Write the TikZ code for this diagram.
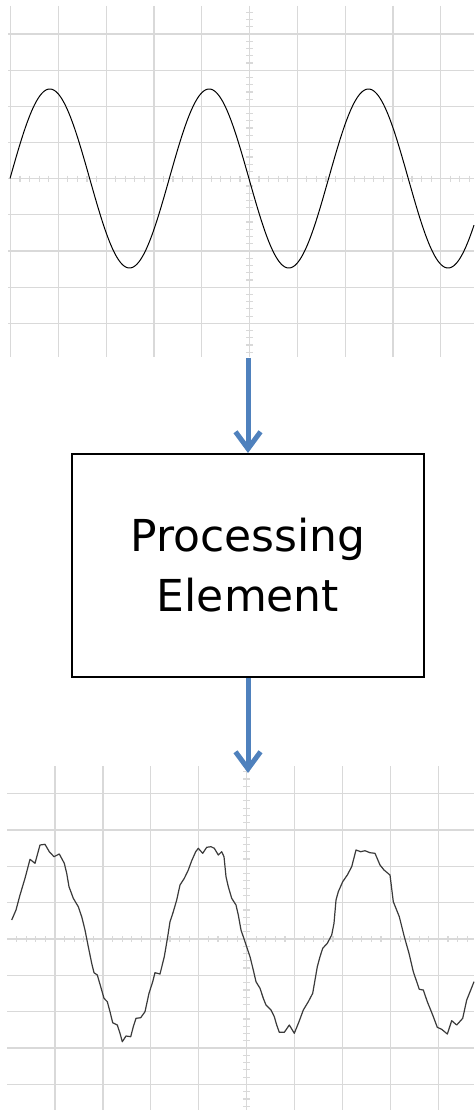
\documentclass[tikz,border=0pt]{standalone}
\usepackage{fontspec}
\newfontfamily\labelfont{DejaVu Sans}
\usetikzlibrary{arrows.meta}
\definecolor{arrowblue}{HTML}{4F81BD}
\definecolor{gridgray}{HTML}{D9D9D9}
\definecolor{noisy}{HTML}{3A3A3A}
\tikzset{
  gridline/.style={draw=gridgray, line width=1.2pt},
  flow/.style={draw=arrowblue, line width=5pt,
    -{Straight Barb[length=17pt,width=25pt]}},
  pebox/.style={draw=black, line width=2pt, fill=white,
    minimum width=352pt, minimum height=223pt, inner sep=0pt,
    align=center, font=\labelfont\fontsize{44}{60}\selectfont},
  cleanwave/.style={draw=black, line width=1pt, line join=round},
  noisywave/.style={draw=noisy, line width=1.2pt, line join=round},
}
\begin{document}
\begin{tikzpicture}[x=1pt, y=-1pt]
\useasboundingbox (0,0) rectangle (474,1115);
\fill[white] (0,0) rectangle (474,1115);

% ---------- input signal: clean sine on a scope grid ----------
\foreach \k in {0,...,9}
  \draw[gridline] ({10.5+47.8*\k},6) -- ({10.5+47.8*\k},357);
\foreach \j in {-4,...,4}
  \draw[gridline] (8,{178.7+36.16*\j}) -- (474,{178.7+36.16*\j});
\foreach \m in {1,...,48}
  \draw[gridline] ({10.5+9.56*\m},175.7) -- ++(0,6);
\foreach \m in {-23,...,24}
  \draw[gridline] (246,{178.7+7.232*\m}) -- ++(7,0);
% 360/159.3 degrees per pixel
\draw[cleanwave] plot[domain=10:474, samples=400, smooth]
  (\x, {178.5-89.5*sin(2.2599*(\x-10))});

% ---------- output signal: noisy sine on a scope grid ----------
\foreach \k in {0,...,8}
  \draw[gridline] ({55+47.93*\k},766) -- ({55+47.93*\k},1110);
\foreach \j in {-4,...,4}
  \draw[gridline] (7.3,{939+36.35*\j}) -- (474,{939+36.35*\j});
\foreach \m in {-4,...,43}
  \draw[gridline] ({55+9.586*\m},936) -- ++(0,6);
\foreach \m in {-23,...,23}
  \draw[gridline] (243.2,{939+7.27*\m}) -- ++(7,0);
\draw[noisywave] (11.7,920) -- (16,910) -- (20,895) -- (25,878.3) -- (30,859.3)
  -- (35,863.3) -- (40,845) -- (45,844.3) -- (49.3,851.7) -- (54,856.7)
  -- (59.3,854) -- (64.3,863.3) -- (66.7,873.3) -- (69,886.7) -- (73.3,898.3)
  -- (78.3,906.7) -- (81.7,916.7) -- (85,930) -- (88.3,946.7) -- (91.7,963.3)
  -- (94,972.7) -- (97.3,975) -- (100.7,986.7) -- (104,998.3) -- (107.3,1001.7)
  -- (110,1011.7) -- (112.7,1022.7) -- (117.3,1025) -- (120,1033.3)
  -- (122.3,1041.7) -- (126,1036) -- (130.7,1036.7) -- (133.3,1026.7)
  -- (136,1018.3) -- (140.7,1017.7) -- (145,1011.7) -- (149,993.3)
  -- (152.7,981.7) -- (155,972.7) -- (160,974) -- (164.3,956.7)
  -- (167.7,936.7) -- (170,921.7) -- (173.3,911.7) -- (176.7,900) -- (180,885)
  -- (184.3,878.3) -- (188.3,870) -- (191.7,860.7) -- (195.7,851.7)
  -- (198.3,848.3) -- (202.7,853.3) -- (206.7,847.3) -- (211,846.7)
  -- (214.3,848.3) -- (218.3,855) -- (221.7,851.7) -- (224,856.7)
  -- (226,876.7) -- (228.3,886.7) -- (231.7,898.3) -- (236,905) -- (238.3,915)
  -- (241,930) -- (245,941.7) -- (250,956.7) -- (253.3,970) -- (256,981.7)
  -- (260,988.3) -- (263.3,998.3) -- (266,1005) -- (271,1010)
  -- (274.3,1016.7) -- (276.7,1025) -- (279.3,1032.3) -- (284.3,1032.3)
  -- (289.3,1025) -- (294.3,1033.3) -- (299,1021.7) -- (303.3,1010)
  -- (308.3,1001.7) -- (312.7,993.3) -- (317.3,966.7) -- (320,956.7)
  -- (322.7,948.3) -- (327.3,943.3) -- (331.7,935) -- (334,923.3) -- (336,900)
  -- (338.3,891.7) -- (342.7,881.7) -- (347.3,875) -- (351.7,866.7)
  -- (356,850) -- (360.7,851.7) -- (365,850.7) -- (370,852.7) -- (375,853.3)
  -- (380,865) -- (384,870) -- (390,875) -- (393.3,901.7) -- (399.3,916.7)
  -- (404.3,936.7) -- (409,953.3) -- (413.3,971.7) -- (419.3,989.3)
  -- (423.3,990) -- (427.3,1001.7) -- (432.7,1015) -- (437.3,1027.3)
  -- (441.7,1029.3) -- (447.3,1034) -- (451.7,1020.7) -- (456.7,1025)
  -- (462.7,1018.3) -- (466.7,1000) -- (470.7,990) -- (474,981.7);

% ---------- processing block and signal flow ----------
\node[pebox] (pe) at (248,565.5) {Processing\\Element};
\coordinate (inscope) at (248,358);
\coordinate (outscope) at (248,773);
\draw[flow] (inscope) -- (pe.north);
\draw[flow] (pe.south) -- (outscope);
\end{tikzpicture}
\end{document}
